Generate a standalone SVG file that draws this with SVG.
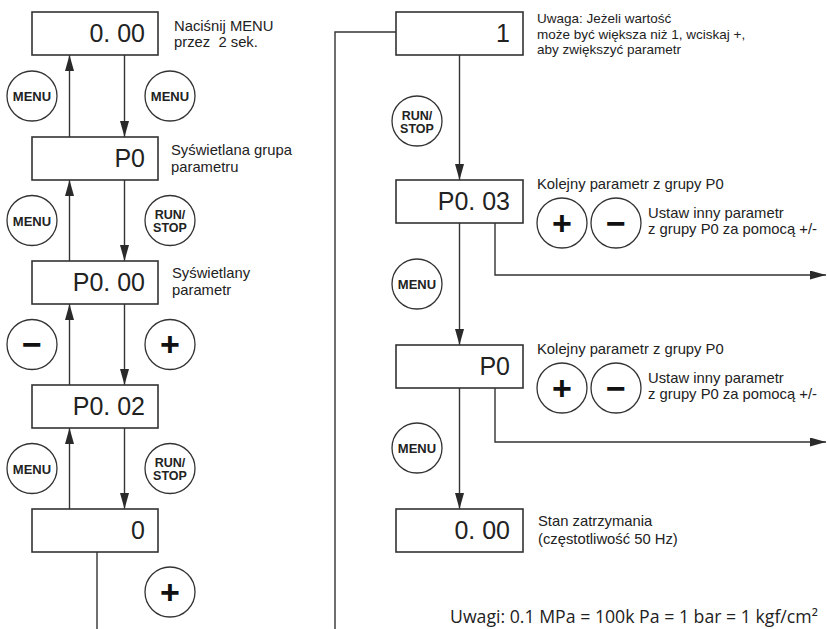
<svg xmlns="http://www.w3.org/2000/svg" width="827" height="629" viewBox="0 0 827 629">
<defs>
<marker id="ah" markerUnits="userSpaceOnUse" markerWidth="16" markerHeight="9" refX="16" refY="4.5" orient="auto">
<path d="M0,0 L16,4.5 L0,9 z" fill="#2a2a2a"/>
</marker>
</defs>
<style>
.box{fill:#fff;stroke:#333;stroke-width:1.6}
.disp{font-family:"Liberation Sans",Arial,sans-serif;font-size:25px;fill:#222;text-anchor:end}
.note{font-family:"Liberation Sans",Arial,sans-serif;font-size:14.8px;fill:#222}
.small{font-size:13.5px}
.btn{fill:#fff;stroke:#333;stroke-width:1.3}
.bl{font-family:"Liberation Sans",Arial,sans-serif;font-weight:bold;font-size:13px;fill:#222;text-anchor:middle}
.bs{font-family:"Liberation Sans",Arial,sans-serif;font-weight:bold;font-size:12.5px;fill:#222;text-anchor:middle}
.sym{font-family:"Liberation Sans",Arial,sans-serif;font-weight:bold;font-size:34px;fill:#111;text-anchor:middle}
.ln{fill:none;stroke:#333;stroke-width:1.4}
.big{font-family:"Open Sans","Noto Sans",sans-serif;font-size:17.7px;fill:#222}
</style>
<g id="connectors">
<path class="ln" d="M124.5,55 V137" marker-end="url(#ah)"/>
<path class="ln" d="M69.5,137 V55" marker-end="url(#ah)"/>
<path class="ln" d="M124.5,180 V261" marker-end="url(#ah)"/>
<path class="ln" d="M69.5,261 V180" marker-end="url(#ah)"/>
<path class="ln" d="M124.5,304 V385" marker-end="url(#ah)"/>
<path class="ln" d="M69.5,385 V304" marker-end="url(#ah)"/>
<path class="ln" d="M124.5,428 V509" marker-end="url(#ah)"/>
<path class="ln" d="M69.5,509 V428" marker-end="url(#ah)"/>
<path class="ln" d="M97,552 V629"/>
<path class="ln" d="M396,32 H335 V629"/>
<path class="ln" d="M459.5,55 V180" marker-end="url(#ah)"/>
<path class="ln" d="M459.5,223 V345" marker-end="url(#ah)"/>
<path class="ln" d="M459.5,388 V509" marker-end="url(#ah)"/>
<path class="ln" d="M495,223 V275 H826" marker-end="url(#ah)"/>
<path class="ln" d="M495,388 V442 H826" marker-end="url(#ah)"/>
</g>
<g id="n1"><rect class="box" x="32" y="12" width="126" height="43"/><text class="disp" x="145" y="42">0. 00</text></g>
<g id="n2"><rect class="box" x="32" y="137" width="126" height="43"/><text class="disp" x="145" y="167">P0</text></g>
<g id="n3"><rect class="box" x="32" y="261" width="126" height="43"/><text class="disp" x="145" y="291">P0. 00</text></g>
<g id="n4"><rect class="box" x="32" y="385" width="126" height="43"/><text class="disp" x="145" y="415">P0. 02</text></g>
<g id="n5"><rect class="box" x="32" y="509" width="126" height="43"/><text class="disp" x="145" y="539">0</text></g>
<g id="r1"><rect class="box" x="396" y="12" width="127" height="43"/><text class="disp" x="510" y="42">1</text></g>
<g id="r2"><rect class="box" x="396" y="180" width="127" height="43"/><text class="disp" x="510" y="210">P0. 03</text></g>
<g id="r3"><rect class="box" x="396" y="345" width="127" height="43"/><text class="disp" x="510" y="375">P0</text></g>
<g id="r4"><rect class="box" x="396" y="509" width="127" height="43"/><text class="disp" x="510" y="539">0. 00</text></g>
<g id="buttons">
<g id="b1"><circle class="btn" cx="32" cy="96" r="25"/><text class="bl" x="32" y="101">MENU</text></g>
<g id="b2"><circle class="btn" cx="170" cy="96" r="25"/><text class="bl" x="170" y="101">MENU</text></g>
<g id="b3"><circle class="btn" cx="32" cy="220.5" r="25"/><text class="bl" x="32" y="225.5">MENU</text></g>
<g id="b4"><circle class="btn" cx="170" cy="220.5" r="25"/><text class="bs" x="170" y="219">RUN/</text><text class="bs" x="170" y="232">STOP</text></g>
<g id="b5"><circle class="btn" cx="32" cy="344.5" r="25"/><text class="sym" x="32" y="356">−</text></g>
<g id="b6"><circle class="btn" cx="170" cy="344.5" r="25"/><text class="sym" x="170" y="356">+</text></g>
<g id="b7"><circle class="btn" cx="32" cy="468.5" r="25"/><text class="bl" x="32" y="473.5">MENU</text></g>
<g id="b8"><circle class="btn" cx="170" cy="468.5" r="25"/><text class="bs" x="170" y="467">RUN/</text><text class="bs" x="170" y="480">STOP</text></g>
<g id="b9"><circle class="btn" cx="170" cy="592" r="25"/><text class="sym" x="170" y="603.5">+</text></g>
<g id="b10"><circle class="btn" cx="417" cy="121" r="25"/><text class="bs" x="417" y="119.5">RUN/</text><text class="bs" x="417" y="132.5">STOP</text></g>
<g id="b11"><circle class="btn" cx="417" cy="284" r="25"/><text class="bl" x="417" y="289">MENU</text></g>
<g id="b12"><circle class="btn" cx="417" cy="448" r="25"/><text class="bl" x="417" y="453">MENU</text></g>
<g id="b13"><circle class="btn" cx="562" cy="223" r="25"/><text class="sym" x="562" y="234.5">+</text></g>
<g id="b14"><circle class="btn" cx="616" cy="223" r="25"/><text class="sym" x="616" y="234.5">−</text></g>
<g id="b15"><circle class="btn" cx="562" cy="388" r="25"/><text class="sym" x="562" y="399.5">+</text></g>
<g id="b16"><circle class="btn" cx="616" cy="388" r="25"/><text class="sym" x="616" y="399.5">−</text></g>
</g>
<g id="notes">
<text class="note" x="174" y="30.5">Naciśnij MENU</text>
<text class="note" x="174" y="47.2" xml:space="preserve">przez  2 sek.</text>
<text class="note" x="171" y="155">Syświetlana grupa</text>
<text class="note" x="171" y="172">parametru</text>
<text class="note" x="172" y="277.5">Syświetlany</text>
<text class="note" x="172" y="294.5">parametr</text>
<text class="note small" x="537" y="23">Uwaga: Jeżeli wartość</text>
<text class="note small" x="537" y="38.5">może być większa niż 1, wciskaj +,</text>
<text class="note small" x="537" y="54">aby zwiększyć parametr</text>
<text class="note" x="537" y="189">Kolejny parametr z grupy P0</text>
<text class="note" x="648" y="217.5">Ustaw inny parametr</text>
<text class="note" x="648" y="234.2">z grupy P0 za pomocą +/-</text>
<text class="note" x="537" y="354">Kolejny parametr z grupy P0</text>
<text class="note" x="648" y="382.5">Ustaw inny parametr</text>
<text class="note" x="648" y="399.2">z grupy P0 za pomocą +/-</text>
<text class="note" x="538" y="526">Stan zatrzymania</text>
<text class="note" x="538" y="543.5">(częstotliwość 50 Hz)</text>
<text class="big" x="450" y="623">Uwagi: 0.1 MPa = 100k Pa = 1 bar = 1 kgf/cm²</text>
</g>
</svg>
